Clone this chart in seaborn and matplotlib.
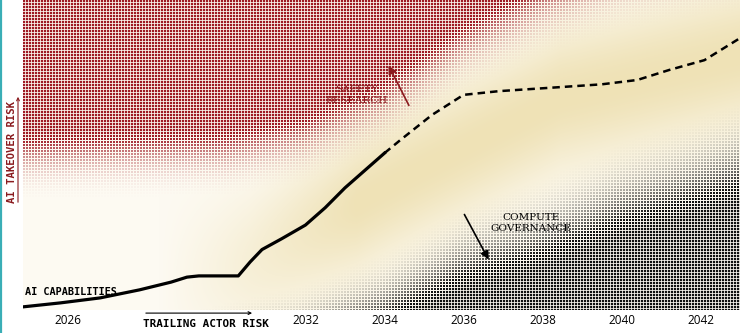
import numpy as np
import pandas as pd
import seaborn as sns
import matplotlib.pyplot as plt

# AI capabilities curve
solid_years = [2024.84, 2025.8, 2026.8, 2027.8, 2028.6, 2029.0, 2029.3, 2030.3, 2030.6,
               2030.9, 2031.4, 2032.0, 2032.5, 2033.0, 2033.5, 2034.0]
solid_vals = [1.0, 2.3, 3.9, 6.5, 9.0, 10.6, 11.0, 11.0, 15.5, 19.5, 23.0, 27.4, 33.0,
              39.4, 45.0, 50.6]
dash_years = [2034.0, 2034.4, 2035.2, 2036.0, 2036.9, 2038.45, 2039.5, 2040.4, 2041.2,
              2042.1, 2043.0]
dash_vals = [50.6, 54.8, 62.9, 69.4, 70.6, 71.9, 72.8, 74.2, 77.4, 80.6, 87.7]

tick_years = [2026, 2032, 2034, 2036, 2038, 2040, 2042]

# where the red (takeover risk) dots fade out
red_edge_x = [2024.85, 2030.0, 2032.0, 2034.0, 2036.0, 2038.0, 2040.0, 2043.0]
red_edge_y = [34, 35, 39, 50, 68, 80, 88, 94]
red_ramp = [24, 24, 25, 26, 26, 28, 32, 36]
# where the black (trailing actor risk) dots fade out
blk_edge_x = [2024.85, 2028.8, 2031.8, 2034.0, 2036.0, 2038.0, 2040.0, 2043.0]
blk_edge_y = [-8, 0, 9, 20, 35, 44, 56, 69]
blk_ramp = [20, 20, 24, 26, 28, 30, 32, 34]
# centre of the beige band
band_x = [2024.85, 2030.6, 2034.4, 2038.45, 2043.0]
band_y = [-5, 16, 42, 68, 82]

RED = np.array([158, 26, 36]) / 255
RED_TXT = "#8a1a1e"
INK = np.array([15, 15, 15]) / 255
CREAM = np.array([253, 250, 242]) / 255
BEIGE = np.array([239, 226, 182]) / 255

x0, x1 = 2024.85, 2043.0
y0, y1 = 0, 100
W, H = 717, 310  # axes size in pixels

fig = plt.figure(figsize=(7.4, 3.33), dpi=100)
fig.patch.set_facecolor("white")
ax = fig.add_axes([23 / 740, 23 / 333, W / 740, H / 333])
ax.set_xlim(x0, x1)
ax.set_ylim(y0, y1)

# background texture: beige band + halftone dots, one pixel per image cell
PX, PY = np.meshgrid(np.arange(W), np.arange(H))  # PY = 0 at top
GX = x0 + (PX + 0.5) / W * (x1 - x0)
GY = y1 - (PY + 0.5) / H * (y1 - y0)

centre = np.interp(GX, band_x, band_y)
w = np.exp(-((GY - centre) / 23.0) ** 2) * np.clip((GX - 2028.3) / 5.0, 0, 1)
img = CREAM * (1 - w[..., None]) + BEIGE * w[..., None]

dx = np.abs((PX % 3) - 0.5)
dy = np.abs((PY % 3) - 0.5)
# fields are read at the cell centre
CX = x0 + ((PX // 3) * 3 + 1.5) / W * (x1 - x0)
CY = y1 - ((PY // 3) * 3 + 1.5) / H * (y1 - y0)


def coverage(frac, side_max=2.4):
    side = frac ** 1.2 * side_max
    cx = np.clip(side / 2 - dx + 0.5, 0, 1)
    cy = np.clip(side / 2 - dy + 0.5, 0, 1)
    return cx * cy * (frac > 0.08)


red_frac = np.clip((CY - np.interp(CX, red_edge_x, red_edge_y))
                   / np.interp(CX, red_edge_x, red_ramp), 0, 1)
blk_frac = np.clip((np.interp(CX, blk_edge_x, blk_edge_y) - CY)
                   / np.interp(CX, blk_edge_x, blk_ramp), 0, 1)
rc = coverage(red_frac)[..., None]
bc = coverage(blk_frac)[..., None]
img = img * (1 - rc) + RED * rc
img = img * (1 - bc) + INK * bc

ax.imshow(img, extent=[x0, x1, y0, y1], aspect="auto", zorder=0,
          interpolation="nearest")

# capability curve
sns.lineplot(x=solid_years, y=solid_vals, ax=ax, color="black", lw=2.3, sort=False,
             zorder=3)
sns.lineplot(x=dash_years, y=dash_vals, ax=ax, color="black", lw=1.8, sort=False,
             zorder=3, linestyle=(0, (3, 2)))

mono = "DejaVu Sans Mono"
ax.text(2024.9, 5.8, "AI CAPABILITIES", family=mono, weight="bold", fontsize=7.4,
        ha="left", va="center", zorder=4)

ax.text(2033.3, 69.4, "SAFETY\nRESEARCH", family="DejaVu Serif", fontsize=7.5,
        color=RED_TXT, ha="center", va="center", linespacing=1.3, zorder=4)
ax.annotate("", xy=(2034.07, 79.7), xytext=(2034.65, 65.2),
            arrowprops=dict(arrowstyle="-|>", color=RED_TXT, lw=1.2, mutation_scale=12),
            zorder=4)

ax.text(2037.7, 28.1, "COMPUTE\nGOVERNANCE", family="DejaVu Serif", fontsize=7.5,
        color="black", ha="center", va="center", linespacing=1.3, zorder=4)
ax.annotate("", xy=(2036.67, 15.5), xytext=(2035.99, 31.6),
            arrowprops=dict(arrowstyle="-|>", color="black", lw=1.2, mutation_scale=12),
            zorder=4)

# trailing actor risk label under the axis
ax.annotate("", xy=(2030.72, -1.0), xytext=(2027.89, -1.0), annotation_clip=False,
            arrowprops=dict(arrowstyle="->", color="black", lw=0.8, mutation_scale=5))
ax.text(2027.89, -4.6, "TRAILING ACTOR RISK", family=mono, weight="bold", fontsize=7.9,
        ha="left", va="center", clip_on=False)

# takeover risk label on the left
fig.text(12 / 740, 1 - 152 / 333, "AI TAKEOVER RISK", family=mono, weight="bold",
         fontsize=7.7, color=RED_TXT, rotation=90, ha="center", va="center")
ax.annotate("", xy=(18 / 740, 1 - 94 / 333), xytext=(18 / 740, 1 - 205 / 333),
            xycoords="figure fraction", textcoords="figure fraction",
            arrowprops=dict(arrowstyle="->", color=RED_TXT, lw=0.8, mutation_scale=5))

# teal border at left
fig.add_artist(plt.Line2D([1 / 740, 1 / 740], [0, 1], color="#3aaeb6", lw=1.6))

ax.set_xticks(tick_years)
ax.set_xticklabels([str(t) for t in tick_years], family="Open Sans", fontsize=8.5)
ax.tick_params(axis="x", length=0, pad=3)
ax.set_yticks([])
ax.set_xlabel("")
ax.set_ylabel("")
for s in ax.spines.values():
    s.set_visible(False)

fig.savefig("out.png", dpi=100, facecolor="white")
